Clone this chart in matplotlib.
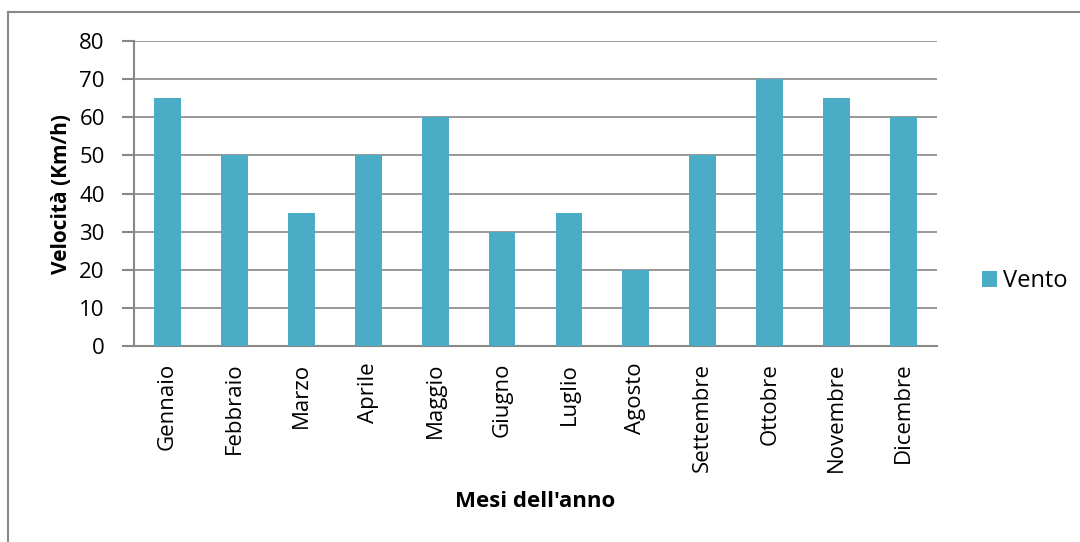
import matplotlib
matplotlib.use("Agg")
import matplotlib.pyplot as plt
from matplotlib.lines import Line2D

months = ["Gennaio", "Febbraio", "Marzo", "Aprile", "Maggio", "Giugno",
          "Luglio", "Agosto", "Settembre", "Ottobre", "Novembre", "Dicembre"]
vento = [65, 50, 35, 50, 60, 30, 35, 20, 50, 70, 65, 60]
yticks = [0, 10, 20, 30, 40, 50, 60, 70, 80]

plt.rcParams['font.family'] = ['Open Sans', 'DejaVu Sans']
W, H = 1080, 542
fig = plt.figure(figsize=(W/100, H/100), dpi=100)
ax = fig.add_axes([134/W, 1 - 346/H, (937-134)/W, (346-41)/H])

color = "#4BACC6"
x = list(range(len(months)))
ax.bar(x, vento, width=0.4, color=color, label="Vento", zorder=3)
ax.set_xlim(-0.5, len(months) - 0.5)
ax.set_ylim(0, 80)
ax.set_yticks(yticks)
ax.set_yticklabels([str(v) for v in yticks], fontsize=16)
ax.set_xticks(x)
ax.set_xticklabels(months, rotation=90, fontsize=16)
ax.tick_params(axis='x', length=0, pad=12)
ax.tick_params(axis='y', length=9, color="#888888", width=1.5, pad=12)
ax.yaxis.grid(True, color="#888888", linewidth=1.2, zorder=0)
for s in ["top", "right"]:
    ax.spines[s].set_visible(False)
for s in ["left", "bottom"]:
    ax.spines[s].set_color("#888888")
    ax.spines[s].set_linewidth(1.5)

ax.set_ylabel("Velocità (Km/h)", fontsize=15, fontweight="bold", labelpad=5)
ax.set_xlabel("Mesi dell'anno", fontsize=16, fontweight="bold", labelpad=14)

leg = ax.legend(loc="center left", bbox_to_anchor=(970/W, 1 - 281/H),
                bbox_transform=fig.transFigure, frameon=False, fontsize=17,
                handlelength=0.65, handleheight=0.65, handletextpad=0.25, borderpad=0)

# outer chart border (top and left visible)
fig.add_artist(Line2D([8/W, 1], [1 - 12/H, 1 - 12/H], transform=fig.transFigure,
                      color="#888888", linewidth=1.5))
fig.add_artist(Line2D([8/W, 8/W], [0, 1 - 12/H], transform=fig.transFigure,
                      color="#888888", linewidth=1.5))

fig.savefig("out.png", dpi=100)
